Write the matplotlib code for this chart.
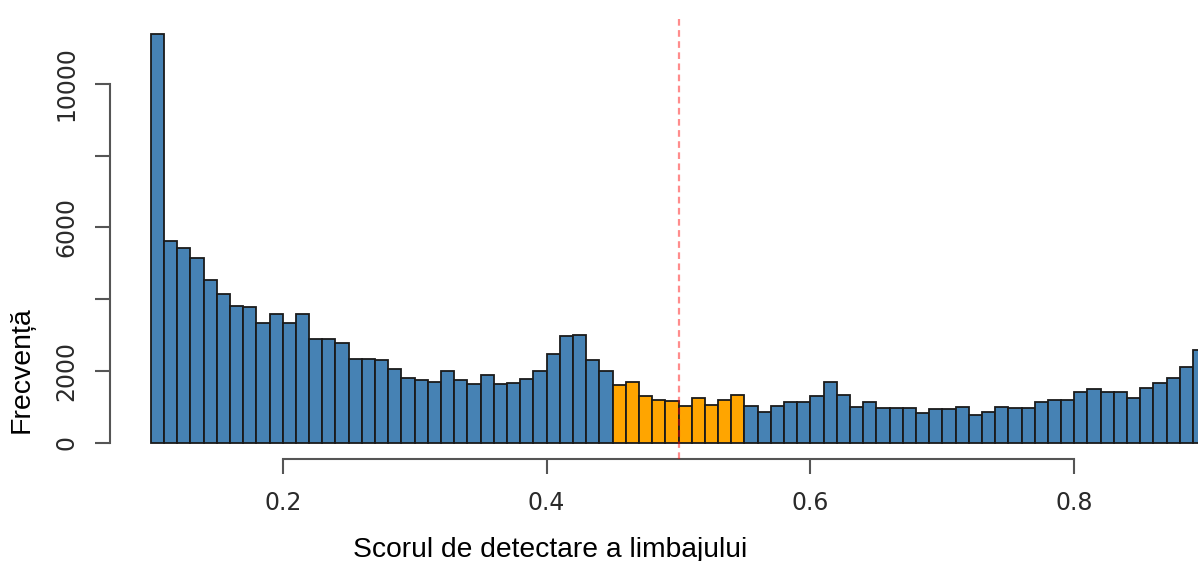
import numpy as np
import matplotlib.pyplot as plt

# histogram counts, bins of width 0.01 starting at 0.10 (visible part only)
bin_start = 0.10
bin_width = 0.01
counts = [11400, 5610, 5420, 5150, 4540, 4150, 3810, 3790, 3350, 3590,
          3350, 3590, 2890, 2890, 2780, 2330, 2330, 2300, 2050, 1810,
          1760, 1700, 1990, 1760, 1630, 1880, 1630, 1660, 1780, 1990,
          2470, 2970, 3000, 2300, 2000, 1620, 1690, 1300, 1180, 1160,
          1020, 1240, 1060, 1180, 1340, 1020, 850, 1020, 1130, 1130,
          1310, 1700, 1345, 1010, 1130, 960, 960, 960, 830, 940,
          940, 1010, 780, 870, 990, 960, 970, 1130, 1195, 1195,
          1410, 1500, 1430, 1430, 1240, 1520, 1670, 1810, 2110, 2600]
highlight = (0.45, 0.55)
threshold = 0.5

xticks = [0.2, 0.4, 0.6, 0.8]
yticks = [0, 2000, 4000, 6000, 8000, 10000]
ytick_labels = ["0", "2000", "", "6000", "", "10000"]

W, H = 1198, 561
fig = plt.figure(figsize=(W / 100, H / 100), dpi=100)
ax = fig.add_axes([110 / W, (H - 459.3) / H, 1137 / W, 444 / H])

lefts = bin_start + bin_width * np.arange(len(counts))
colors = ["orange" if highlight[0] - 1e-9 <= l < highlight[1] - 1e-9 else "steelblue"
          for l in lefts]
ax.bar(lefts, counts, width=bin_width, align="edge", color=colors,
       edgecolor="#1a1a1a", linewidth=1.3)

# threshold line
ax.axvline(threshold, color="red", alpha=0.45, lw=1.6, ls=(0, (3, 2)), zorder=5)

ax.set_xlim(0.0691, 0.9309)
ax.set_ylim(-458, 11908)

for s in ["top", "right"]:
    ax.spines[s].set_visible(False)
ax.spines["left"].set_bounds(0, 10000)
ax.spines["bottom"].set_bounds(0.2, 0.8)
for s in ["left", "bottom"]:
    ax.spines[s].set_color("#555555")
    ax.spines[s].set_linewidth(1.5)

ax.set_xticks(xticks)
ax.set_xticklabels([f"{t:.1f}" for t in xticks])
ax.set_yticks(yticks)
ax.set_yticklabels(ytick_labels, rotation=90, va="center")
ax.tick_params(axis="both", length=10.5, width=1.5, color="#555555",
               labelsize=17, labelcolor="#2a2a2a")
ax.tick_params(axis="x", pad=12)
ax.tick_params(axis="y", pad=12)

fig.text(550 / W, 1 - 557 / H, "Scorul de detectare a limbajului",
         family="Liberation Sans", fontsize=20.3, ha="center", va="baseline")
fig.text(22 / W, 1 - 370 / H, "Frecvență", family="Liberation Sans",
         fontsize=20.5, rotation=90, ha="center", va="center")

fig.savefig("out.png", dpi=100)
